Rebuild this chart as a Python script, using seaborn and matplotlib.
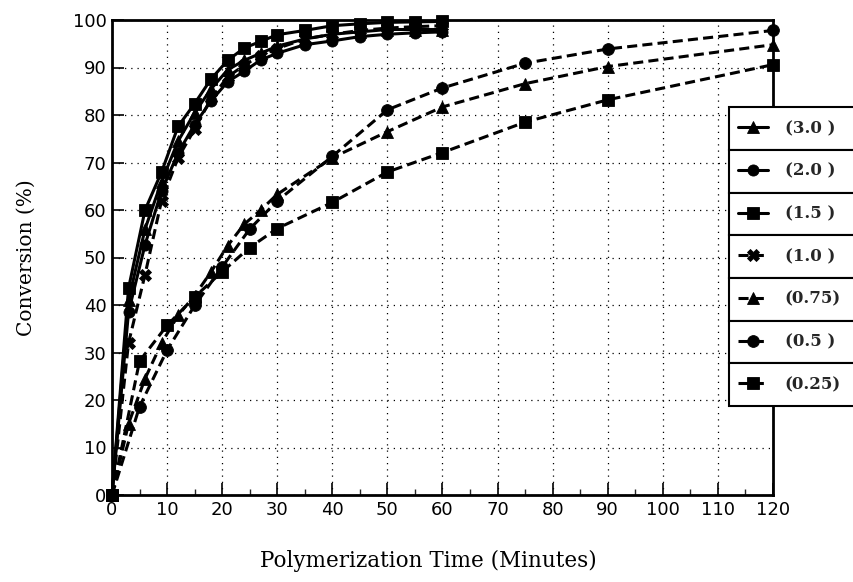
import matplotlib
matplotlib.use("Agg")
import matplotlib.pyplot as plt
import seaborn as sns
from matplotlib.patches import Rectangle

# ---------------- data ----------------
t_fast = [0, 3, 6, 9, 12, 15, 18, 21, 24, 27, 30, 35, 40, 45, 50, 55, 60]
conv_30 = [0, 41, 56, 66, 74.5, 80.5, 85.5, 89.5, 91.5, 93, 94.5, 96, 97, 97.5, 98, 98, 98]
conv_20 = [0, 38.5, 52.7, 64, 72, 78, 83, 87, 89.2, 91.6, 93, 94.8, 95.6, 96.5, 97, 97.3, 97.5]
conv_15 = [0, 43.5, 60, 68, 77.6, 82.4, 87.6, 91.5, 94.1, 95.5, 96.9, 97.8, 98.8, 99.2, 99.5, 99.6, 99.7]
conv_10 = [0, 32, 46.4, 62, 71, 77, 83.5, 88, 90.5, 92.5, 94, 96, 97, 97.8, 98.3, 98.6, 98.8]

t_075 = [0, 3, 6, 9, 12, 15, 18, 21, 24, 27, 30, 40, 50, 60, 75, 90, 120]
conv_075 = [0, 15, 24.5, 32, 37.8, 42, 47, 52.5, 57, 60, 63.3, 71, 76.5, 81.7, 86.6, 90.2, 94.8]

t_slow = [0, 5, 10, 15, 20, 25, 30, 40, 50, 60, 75, 90, 120]
conv_05 = [0, 18.6, 30.5, 39.9, 48, 56, 61.9, 71.3, 81.1, 85.7, 90.9, 93.9, 97.8]
conv_025 = [0, 28.2, 35.7, 41.7, 47, 52.1, 56.1, 61.6, 68, 72.1, 78.5, 83.2, 90.6]

series_labels = ["(3.0 )", "(2.0 )", "(1.5 )", "(1.0 )", "(0.75)", "(0.5 )", "(0.25)"]
x_ticks = list(range(0, 121, 10))
x_minor = list(range(5, 120, 10))
y_ticks = list(range(0, 101, 10))

# ---------------- figure ----------------
sns.set_theme(style="white")
plt.rcParams["font.family"] = ["DejaVu Sans"]

W, H = 854, 582
fig = plt.figure(figsize=(W / 100, H / 100), dpi=100)
ax = fig.add_axes([112 / W, 1 - 495 / H, 661 / W, 475 / H])

solid = "-"
dashed = (0, (3.3, 1.7))
specs = [
    (t_fast, conv_30, "^", 8, solid),
    (t_fast, conv_20, "o", 8, solid),
    (t_fast, conv_15, "s", 8, solid),
    (t_fast, conv_10, "X", 8, dashed),
    (t_075, conv_075, "^", 8, dashed),
    (t_slow, conv_05, "o", 8.5, dashed),
    (t_slow, conv_025, "s", 8.5, dashed),
]
for (tx, vy, mk, ms, ls), lab in zip(specs, series_labels):
    sns.lineplot(x=tx, y=vy, ax=ax, color="black", marker=mk, markersize=ms,
                 markeredgecolor="black", markeredgewidth=0.6, linewidth=2.2,
                 linestyle=ls, label=lab, clip_on=False, zorder=3)

ax.set_xlim(0, 120)
ax.set_ylim(0, 100)
ax.set_xticks(x_ticks)
ax.set_xticks(x_minor, minor=True)
ax.set_yticks(y_ticks)
ax.set_xticklabels([str(v) for v in x_ticks])
ax.set_yticklabels([str(v) for v in y_ticks])
ax.grid(True, which="major", color="black", linestyle=(0, (1, 4)), linewidth=0.9)
ax.tick_params(axis="both", which="major", direction="in", length=8.5, width=1.2,
               labelsize=13, pad=4, colors="black", bottom=True, left=True,
               top=False, right=False)
ax.tick_params(axis="x", which="minor", direction="in", length=4, width=1.0,
               bottom=True, top=False)
for sp in ax.spines.values():
    sp.set_color("black")
    sp.set_linewidth(2)

ax.set_xlabel("Polymerization Time (Minutes)", family="DejaVu Serif", fontsize=15.5,
              color="black")
ax.set_ylabel("Conversion (%)", family="DejaVu Serif", fontsize=14.5, color="black")
ax.xaxis.set_label_coords(0.478, -0.115)
ax.yaxis.set_label_coords(-0.115, 0.5)

if ax.get_legend() is not None:
    ax.get_legend().remove()

handles, labs = ax.get_legend_handles_labels()
leg = fig.legend(handles, labs, loc="center left",
                 bbox_to_anchor=(738 / W, 1 - 256.7 / H),
                 bbox_transform=fig.transFigure, frameon=False,
                 prop=dict(family="DejaVu Serif", weight="bold", size=12),
                 handlelength=1.8, handletextpad=1.0, labelspacing=1.54,
                 borderpad=0, borderaxespad=0, markerscale=1.0)
leg.set_zorder(5)

fig.canvas.draw()
rend = fig.canvas.get_renderer()
centers = []
for txt in leg.get_texts():
    bb = txt.get_window_extent(rend)
    centers.append((bb.y0 + bb.y1) / 2)
pitch = (centers[0] - centers[-1]) / (len(centers) - 1)
left_px = 729.5
for c in centers:
    rect = Rectangle((left_px / W, (c - pitch / 2) / H), (900 - left_px) / W, pitch / H,
                     transform=fig.transFigure, facecolor="white", edgecolor="black",
                     linewidth=1.5, zorder=2)
    fig.patches.append(rect)

fig.savefig("out.png", dpi=100)
